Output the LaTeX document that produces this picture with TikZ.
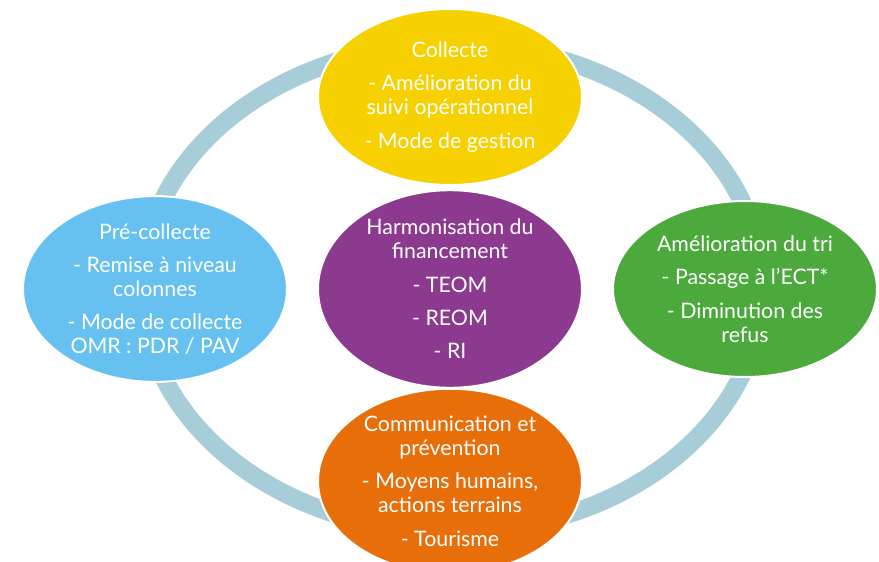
\documentclass[tikz,border=0pt]{standalone}
\usepackage{fontspec}
\setmainfont{Lato}
\usetikzlibrary{shapes.geometric}

\tikzset{every picture/.style={line width=0.75pt}}
\tikzset{
  bulle/.style={ellipse, draw=white, line width=1.5pt, inner sep=0pt,
    minimum width=198pt, minimum height=132pt, text=white, align=center,
    font=\fontsize{16}{18}\selectfont},
  anneau/.style={draw={rgb, 255:red, 167; green, 205; blue, 216 }, line width=13.5pt}
}

\begin{document}
\begin{tikzpicture}[x=0.75pt,y=0.75pt,yscale=-1,xscale=1]
\useasboundingbox (0,0) rectangle (879,561);
\clip (0,0) rectangle (879,561);

%Shape: Ellipse [ring behind the bubbles]
\coordinate (centre) at (452,288);
\draw [anneau] (centre) ellipse [x radius=310, y radius=244];

%Shape: Ellipse [top]
\node [bulle, fill={rgb, 255:red, 247; green, 208; blue, 0 }] (collecte) at (450,97)
  {Collecte\\[7pt]- Amélioration du\\suivi opérationnel\\[7pt]- Mode de gestion};
%Shape: Ellipse [left]
\node [bulle, fill={rgb, 255:red, 103; green, 193; blue, 240 }] (precollecte) at (155,289)
  {Pré-collecte\\[7pt]- Remise à niveau\\colonnes\\[7pt]- Mode de collecte\\OMR : PDR / PAV};
%Shape: Ellipse [middle]
\node [bulle, fill={rgb, 255:red, 139; green, 58; blue, 143 }] (financement) at (450,289)
  {Harmonisation du\\financement\\[7pt]- TEOM\\[7pt]- REOM\\[7pt]- RI};
%Shape: Ellipse [right]
\node [bulle, fill={rgb, 255:red, 76; green, 170; blue, 60 }] (tri) at (745,289)
  {Amélioration du tri\\[7pt]- Passage à l’ECT*\\[7pt]- Diminution des\\refus};
%Shape: Ellipse [bottom]
\node [bulle, fill={rgb, 255:red, 232; green, 110; blue, 10 }] (communication) at (450,481)
  {Communication et\\prévention\\[7pt]- Moyens humains,\\actions terrains\\[7pt]- Tourisme};

\end{tikzpicture}
\end{document}
